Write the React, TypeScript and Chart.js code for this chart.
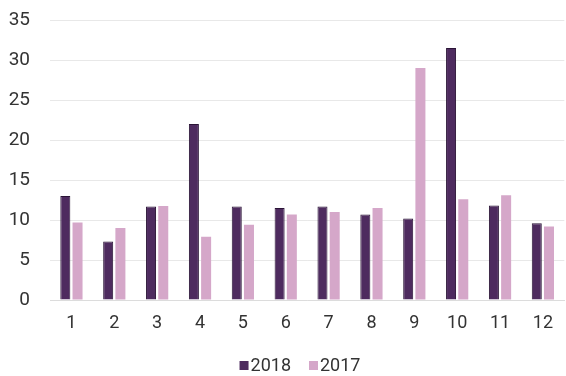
import React, { useEffect, useRef } from "react";
import { Chart, registerables } from "chart.js";

Chart.register(...registerables);

const months = ["1", "2", "3", "4", "5", "6", "7", "8", "9", "10", "11", "12"];
const values2018 = [13, 7.3, 11.7, 22, 11.7, 11.5, 11.7, 10.7, 10.2, 31.5, 11.8, 9.6];
const values2017 = [9.7, 9.0, 11.75, 7.9, 9.4, 10.7, 11.0, 11.5, 29.0, 12.6, 13.1, 9.2];
const yTicks = [0, 5, 10, 15, 20, 25, 30, 35];

const FONT = "Roboto";
const TEXT_COLOR = "#333";

// Compact legend: small square swatch sitting right next to its label.
const compactLegend = {
  id: "compactLegend",
  afterDraw(chart: any) {
    const ctx = chart.ctx as CanvasRenderingContext2D;
    const box = 9;
    const gap = 2;
    const itemGap = 18;
    const centerX = 300;
    const baseline = 371;
    ctx.save();
    ctx.font = `18px ${FONT}`;
    ctx.textBaseline = "alphabetic";
    ctx.textAlign = "left";
    const items = chart.data.datasets.map((ds: any) => ({
      text: ds.label as string,
      color: ds.backgroundColor as string,
      width: ctx.measureText(ds.label).width,
    }));
    const total =
      items.reduce((s: number, it: any) => s + box + gap + it.width, 0) +
      itemGap * (items.length - 1);
    let x = centerX - total / 2;
    for (const it of items) {
      ctx.fillStyle = it.color;
      ctx.fillRect(x, baseline - 10, box, box);
      x += box + gap;
      ctx.fillStyle = TEXT_COLOR;
      ctx.fillText(it.text, x, baseline);
      x += it.width + itemGap;
    }
    ctx.restore();
  },
};

export default function App() {
  const canvasRef = useRef<HTMLCanvasElement | null>(null);

  useEffect(() => {
    document.body.style.margin = "0";
    const canvas = canvasRef.current;
    if (!canvas) return;
    const chart = new Chart(canvas, {
      type: "bar",
      data: {
        labels: months,
        datasets: [
          {
            label: "2018",
            data: values2018,
            backgroundColor: "#4e2b5f",
            borderColor: "#2a1436",
            borderWidth: 1,
            categoryPercentage: 0.57,
            barPercentage: 0.82,
          },
          {
            label: "2017",
            data: values2017,
            backgroundColor: "#d5a7c9",
            borderWidth: 0,
            categoryPercentage: 0.57,
            barPercentage: 0.82,
          },
        ],
      },
      options: {
        responsive: false,
        animation: false,
        layout: { padding: { top: 20, right: 0, bottom: 28, left: 0 } },
        scales: {
          x: {
            grid: { display: false, drawTicks: false },
            border: { display: true, color: "#dcdcdc" },
            ticks: {
              color: TEXT_COLOR,
              font: { family: FONT, size: 18 },
              padding: 13,
              maxRotation: 0,
            },
            afterFit: (scale: any) => {
              scale.height = 48;
            },
          },
          y: {
            min: 0,
            max: 35,
            afterBuildTicks: (scale: any) => {
              scale.ticks = yTicks.map((v) => ({ value: v }));
            },
            grid: {
              color: "#e8e8e8",
              drawTicks: true,
              tickLength: 20,
              tickColor: "rgba(0,0,0,0)",
            },
            border: { display: false },
            ticks: {
              color: TEXT_COLOR,
              font: { family: FONT, size: 19 },
              padding: 0,
            },
            afterFit: (scale: any) => {
              scale.width = 50;
            },
          },
        },
        plugins: {
          legend: { display: false },
          tooltip: { enabled: false },
        },
      },
      plugins: [compactLegend],
    });
    return () => chart.destroy();
  }, []);

  return (
    <div style={{ position: "fixed", left: 0, top: 0, width: 566, height: 376, background: "#fff" }}>
      <canvas ref={canvasRef} width={566} height={376} />
    </div>
  );
}
